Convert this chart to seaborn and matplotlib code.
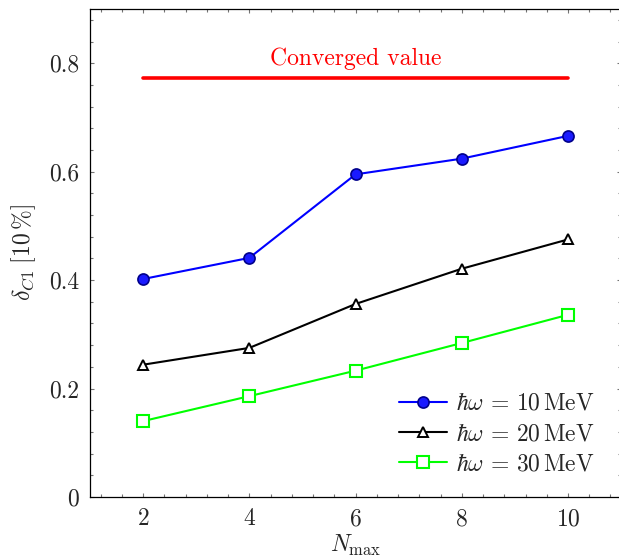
import matplotlib
matplotlib.use("Agg")
import pandas as pd
import seaborn as sns
import matplotlib.pyplot as plt
from matplotlib.ticker import MultipleLocator

# data
n_max = [2, 4, 6, 8, 10]
delta_10mev = [0.402, 0.441, 0.595, 0.624, 0.666]
delta_20mev = [0.244, 0.275, 0.356, 0.421, 0.475]
delta_30mev = [0.140, 0.186, 0.233, 0.284, 0.336]
converged_x = [2, 10]
converged_value = 0.772

labels = [r"$\hbar\omega\,=\,10\,\mathrm{MeV}$",
          r"$\hbar\omega\,=\,20\,\mathrm{MeV}$",
          r"$\hbar\omega\,=\,30\,\mathrm{MeV}$"]

sns.set_style("ticks")
plt.rcParams["font.family"] = ["cmr10", "DejaVu Serif"]
plt.rcParams["mathtext.fontset"] = "cm"
plt.rcParams["axes.formatter.use_mathtext"] = True
plt.rcParams["font.size"] = 17

fig = plt.figure(figsize=(6.19, 5.58), dpi=100)
ax = fig.add_axes([0.1454, 0.1093, 0.858, 0.8746])

sns.lineplot(x=converged_x, y=[converged_value] * len(converged_x), color="red", lw=2.6, ax=ax)
ax.text(6, 0.808, "Converged value", color="red", ha="center", va="center", fontsize=17)

sns.lineplot(x=n_max, y=delta_10mev, color="blue", lw=1.5, marker="o", markersize=8,
             markerfacecolor="#1a1aff", markeredgecolor="#00008b", markeredgewidth=1.2,
             label=labels[0], ax=ax)
sns.lineplot(x=n_max, y=delta_20mev, color="black", lw=1.5, marker="^", markersize=7.5,
             markerfacecolor="white", markeredgecolor="black", markeredgewidth=1.4,
             label=labels[1], ax=ax)
sns.lineplot(x=n_max, y=delta_30mev, color="#00ff00", lw=1.5, marker="s", markersize=8,
             markerfacecolor="white", markeredgecolor="#00ff00", markeredgewidth=1.5,
             label=labels[2], ax=ax)

ax.set_xlim(1, 11)
ax.set_ylim(0, 0.9)
ax.set_xticks([2, 4, 6, 8, 10])
ax.set_yticks([0, 0.2, 0.4, 0.6, 0.8])
ax.set_yticklabels(["0", "0.2", "0.4", "0.6", "0.8"])
ax.xaxis.set_minor_locator(MultipleLocator(0.4))
ax.yaxis.set_minor_locator(MultipleLocator(0.04))
ax.tick_params(which="both", direction="in", top=True, right=True, color="0.45", width=0.8)
ax.tick_params(which="major", length=3.2, labelsize=17, pad=8)
ax.tick_params(which="minor", length=2.2)
for s in ax.spines.values():
    s.set_visible(True)
    s.set_linewidth(0.9)
    s.set_color("black")

ax.set_xlabel(r"$N_{\max}$", fontsize=17, labelpad=2)
ax.set_ylabel(r"$\delta_{C1}\;[10\,\%]$", fontsize=17, labelpad=8)

ax.legend(loc="lower right", bbox_to_anchor=(0.99, 0.0), frameon=False, fontsize=17,
          handlelength=2.0, handletextpad=0.4, labelspacing=0.35, borderaxespad=0.5)

fig.savefig("out.png", dpi=100)
